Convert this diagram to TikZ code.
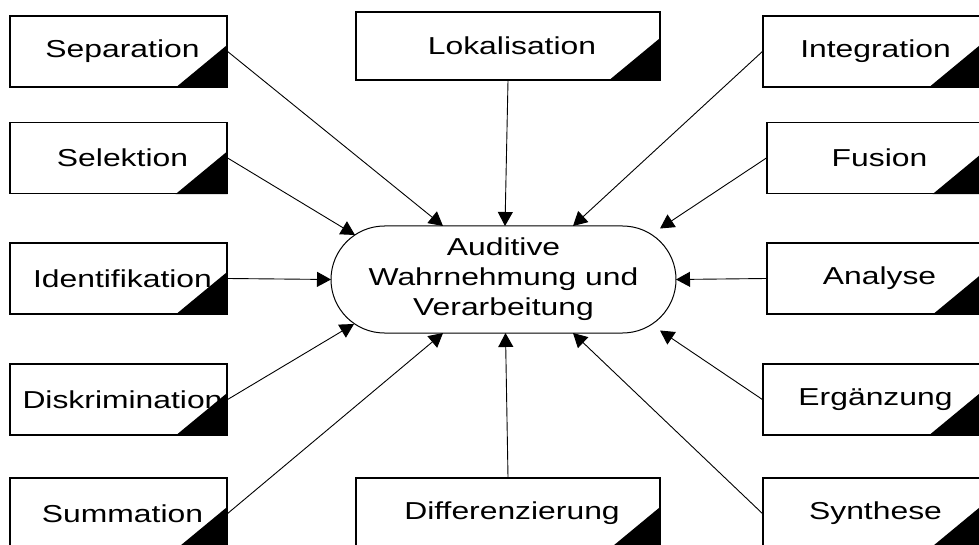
\documentclass[tikz,border=0pt]{standalone}
\usepackage{fontspec}
\setmainfont{Liberation Sans}
\usetikzlibrary{arrows.meta,calc,shapes.misc}
\newcommand{\wx}[1]{\hspace*{8pt}\scalebox{1.3}[1]{#1}}
\begin{document}
\begin{tikzpicture}[x=1pt,y=-1pt,
  box/.style={draw, line width=1.2pt, fill=white, minimum width=217pt, minimum height=71pt,
    inner sep=0pt, font=\fontsize{24.5}{29}\selectfont},
  midbox/.style={box, minimum width=304pt, minimum height=68pt},
  conn/.style={line width=0.9pt, -{Triangle[length=14pt,width=15pt]}},
  corner/.style={fill=black}
]
\useasboundingbox (0,0) rectangle (979,545);
\clip (0,0) rectangle (979,545);

% centre
\node[rounded rectangle, draw, line width=1pt, minimum width=345pt, minimum height=107pt,
  inner sep=0pt, font=\fontsize{24.5}{30}\selectfont] (aud) at (503.5,279.5)
  {\scalebox{1.3}[1]{\begin{tabular}{@{}c@{}}Auditive\\Wahrnehmung und\\Verarbeitung\end{tabular}}};

% left column
\node[box] (sep) at (118.5,51.5) {\wx{Separation}};
\node[box] (sel) at (118.5,158) {\wx{Selektion}};
\node[box] (ide) at (118.5,278.5) {\wx{Identifikation}};
\node[box] (dis) at (118.5,399.5) {\wx{Diskrimination}};
\node[box] (sum) at (118.5,513.5) {\wx{Summation}};
% right column
\node[box] (int) at (871.5,51.5) {\wx{Integration}};
\node[box] (fus) at (875.5,158) {\wx{Fusion}};
\node[box] (ana) at (875.5,278.5) {\wx{Analyse}};
\node[box] (erg) at (871.5,399.5) {\wx{Ergänzung}};
\node[box] (syn) at (871.5,513.5) {\wx{Synthese}};
% middle
\node[midbox] (lok) at (508,46) {\wx{Lokalisation}};
\node[midbox, minimum height=71pt] (dif) at (508,513.5) {\wx{Differenzierung}};

% black corners
\foreach \n in {sep,sel,ide,dis,sum,int,fus,ana,erg,syn,lok,dif}
  \fill[corner] (\n.south east) -- ++(-52,0) -- ++(52,-43) -- cycle;

% connectors
\draw[conn] (sep.east) -- ($(aud.center)+(-60.5,-53.5)$);
\draw[conn] (lok.south) -- ($(aud.center)+(1.5,-53.5)$);
\draw[conn] (int.west) -- ($(aud.center)+(69.5,-53.5)$);
\draw[conn] (sel.east) -- ($(aud.center)+(-148.5,-44.5)$);
\draw[conn] (fus.west) -- ($(aud.center)+(156.5,-51)$);
\draw[conn] (ide.east) -- ($(aud.center)+(-172.5,0)$);
\draw[conn] (ana.west) -- ($(aud.center)+(172.5,0)$);
\draw[conn] (dis.east) -- ($(aud.center)+(-149.5,44.5)$);
\draw[conn] (erg.west) -- ($(aud.center)+(156.5,51)$);
\draw[conn] (sum.east) -- ($(aud.center)+(-60.5,53.5)$);
\draw[conn] (dif.north) -- ($(aud.center)+(2,53.5)$);
\draw[conn] (syn.west) -- ($(aud.center)+(69.5,53.5)$);
\end{tikzpicture}
\end{document}
